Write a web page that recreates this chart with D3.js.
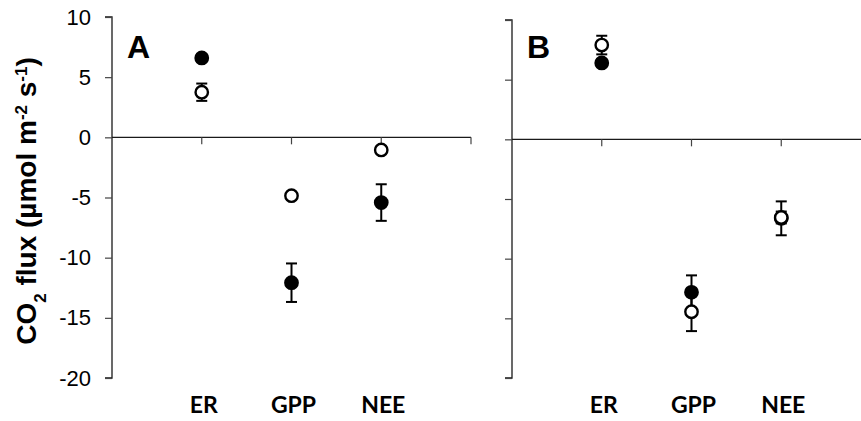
<!DOCTYPE html>
<html>
<head>
<meta charset="utf-8">
<script src="https://cdn.jsdelivr.net/npm/d3@7"></script>
<style>
  html, body { margin: 0; padding: 0; background: #fff; }
  svg { display: block; }
</style>
</head>
<body>
<svg id="chart" width="861" height="421"></svg>
<script>
// Flux components shown on the category axis
const categories = ["ER", "GPP", "NEE"];
const yTicks = [10, 5, 0, -5, -10, -15, -20];

// Panel A: means and standard errors (filled = first treatment, open = second)
const panelAFilled = [6.6, -12.08, -5.42];
const panelAFilledErr = [0.3, 1.6, 1.52];
const panelAOpen = [3.75, -4.85, -1.05];
const panelAOpenErr = [0.72, 0.3, 0.3];

// Panel B
const panelBFilled = [6.4, -12.82, -6.62];
const panelBFilledErr = [0.3, 1.42, 1.42];
const panelBOpen = [7.9, -14.45, -6.55];
const panelBOpenErr = [0.78, 1.62, 0.5];

const svg = d3.select("#chart");
const AXIS = "#1a1a1a";

function drawPanel(cfg) {
  const y = d3.scaleLinear().domain([-20, 10]).range([cfg.yBottom, cfg.yTop]);
  // category positions sit on integer steps 1..3 of a 0..4 axis
  const x = d3.scaleLinear().domain([0, 4]).range([cfg.xLeft, cfg.xLeft + 359]);
  const g = svg.append("g");

  // vertical axis with outward ticks; plain hyphen for negatives
  const yAxis = d3.axisLeft(y).tickValues(yTicks).tickSize(7)
    .tickFormat(cfg.showLabels ? (d => String(d)) : () => "");
  const ya = g.append("g").attr("transform", `translate(${cfg.xLeft},0)`).call(yAxis);
  ya.select(".domain").attr("d", `M-7,${y(10)}H0V${y(-20)}H-7`).attr("stroke", AXIS).attr("stroke-width", 1.3);
  ya.selectAll(".tick line").attr("stroke", "#444").attr("stroke-width", 1.2);
  ya.selectAll(".tick text")
    .attr("x", -21)
    .attr("font-family", "'Liberation Sans', Arial, sans-serif")
    .attr("font-size", 22)
    .attr("fill", "#000");

  // horizontal axis through zero with downward category ticks
  g.append("line")
    .attr("x1", x(0)).attr("x2", x(4))
    .attr("y1", y(0)).attr("y2", y(0))
    .attr("stroke", AXIS).attr("stroke-width", 1.3);
  g.selectAll(".xtick").data([1, 2, 3, 4]).join("line")
    .attr("x1", d => x(d)).attr("x2", d => x(d))
    .attr("y1", y(0)).attr("y2", y(0) + 7)
    .attr("stroke", "#444").attr("stroke-width", 1.2);

  // category labels below the plot
  g.selectAll(".cat").data(categories).join("text")
    .attr("x", (d, i) => x(i + 1) + 2)
    .attr("y", 413)
    .attr("text-anchor", "middle")
    .attr("font-family", "Lato, 'Open Sans', sans-serif")
    .attr("font-weight", 700)
    .attr("font-size", 23)
    .attr("fill", "#000")
    .text(d => d);

  // panel letter
  g.append("text")
    .attr("x", cfg.xLeft + 15).attr("y", 58)
    .attr("font-family", "'Liberation Sans', Arial, sans-serif")
    .attr("font-weight", 700).attr("font-size", 32)
    .attr("fill", "#000")
    .text(cfg.letter);

  function series(vals, errs, fill) {
    const s = g.append("g");
    vals.forEach((v, i) => {
      const cx = x(i + 1);
      const top = y(v + errs[i]), bot = y(v - errs[i]);
      s.append("line").attr("x1", cx).attr("x2", cx).attr("y1", top).attr("y2", bot)
        .attr("stroke", "#000").attr("stroke-width", 2);
      [top, bot].forEach(yy => s.append("line")
        .attr("x1", cx - 5.5).attr("x2", cx + 5.5).attr("y1", yy).attr("y2", yy)
        .attr("stroke", "#000").attr("stroke-width", 2));
    });
    s.selectAll("circle").data(vals).join("circle")
      .attr("cx", (d, i) => x(i + 1))
      .attr("cy", d => y(d))
      .attr("r", 6.2)
      .attr("fill", fill)
      .attr("stroke", "#000")
      .attr("stroke-width", 2.4);
  }
  series(cfg.filled, cfg.filledErr, "#000");
  series(cfg.open, cfg.openErr, "#fff");
}

drawPanel({ xLeft: 112, yTop: 17, yBottom: 378, showLabels: true, letter: "A",
  filled: panelAFilled, filledErr: panelAFilledErr, open: panelAOpen, openErr: panelAOpenErr });
drawPanel({ xLeft: 512, yTop: 20, yBottom: 378, showLabels: false, letter: "B",
  filled: panelBFilled, filledErr: panelBFilledErr, open: panelBOpen, openErr: panelBOpenErr });

// shared y-axis title
const title = svg.append("text")
  .attr("transform", "translate(36,201) rotate(-90)")
  .attr("text-anchor", "middle")
  .attr("font-family", "'Liberation Sans', Arial, sans-serif")
  .attr("font-weight", 700)
  .attr("font-size", 28)
  .attr("fill", "#000");
title.append("tspan").text("CO");
title.append("tspan").attr("baseline-shift", "sub").attr("font-size", 17).text("2");
title.append("tspan").text(" flux (µmol m");
title.append("tspan").attr("baseline-shift", "super").attr("font-size", 17).text("-2");
title.append("tspan").text(" s");
title.append("tspan").attr("baseline-shift", "super").attr("font-size", 17).text("-1");
title.append("tspan").text(")");
</script>
</body>
</html>
